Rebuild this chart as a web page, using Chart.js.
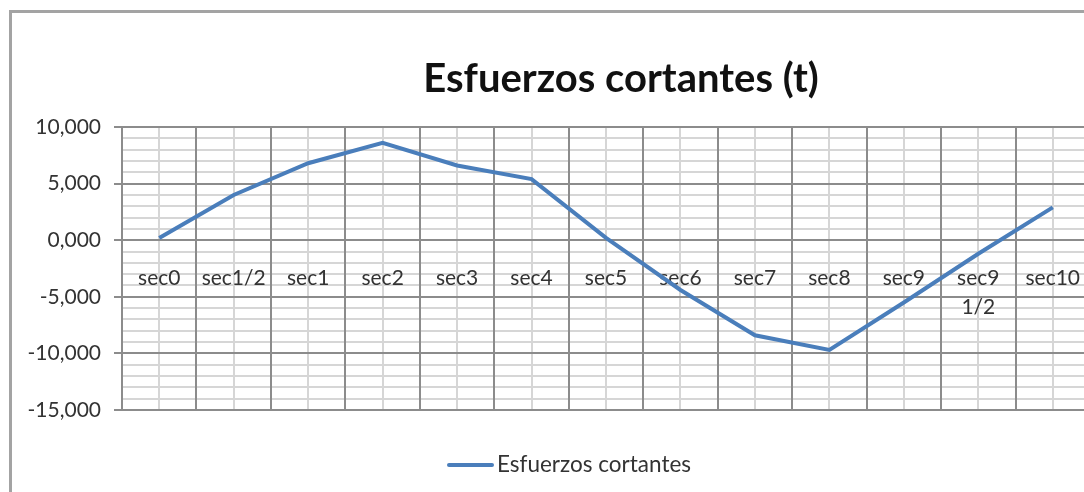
<!DOCTYPE html>
<html>
<head>
<meta charset="utf-8">
<script src="https://cdn.jsdelivr.net/npm/chart.js@4.4.1/dist/chart.umd.min.js"></script>
<style>
    html, body { margin: 0; padding: 0; background: #fff; overflow: hidden; width: 1084px; height: 492px; }
    #frame { position: absolute; left: 9px; top: 10px; width: 1300px; height: 600px; border: 3px solid #a3a3a3; }
    #chart { position: absolute; left: 0; top: 0; }
</style>
</head>
<body>
<div id="frame"></div>
<canvas id="chart" width="1200" height="492"></canvas>
<script>
const chartTitle = 'Esfuerzos cortantes (t)';
const seriesName = 'Esfuerzos cortantes';
const sections = ['sec0', 'sec1/2', 'sec1', 'sec2', 'sec3', 'sec4', 'sec5', 'sec6', 'sec7', 'sec8', 'sec9', ['sec9', '1/2'], 'sec10'];
const shear = [0.2, 4.0, 6.8, 8.6, 6.6, 5.4, 0.2, -4.4, -8.4, -9.7, -5.5, -1.2, 2.9];
const yMin = -15;
const yMax = 10;
const yMajor = 5;

const FONT = 'Lato';
const majorGrid = '#8c8c8c';
const minorGrid = '#d6d6d6';
const lineBlue = '#4a7ebb';
const textColor = '#333';

// title and legend are placed like in the spreadsheet, not where Chart.js would centre them
const decorPlugin = {
    id: 'decor',
    afterDraw(chart) {
        const ctx = chart.ctx;
        ctx.save();
        ctx.fillStyle = '#111';
        ctx.font = 'bold 40px ' + FONT;
        ctx.textAlign = 'center';
        ctx.textBaseline = 'middle';
        ctx.fillText(chartTitle, 621, 79);

        const ds = chart.data.datasets[0];
        ctx.strokeStyle = ds.borderColor;
        ctx.lineWidth = 4;
        ctx.lineCap = 'round';
        ctx.beginPath();
        ctx.moveTo(449, 465);
        ctx.lineTo(492, 465);
        ctx.stroke();
        ctx.fillStyle = textColor;
        ctx.font = '22.5px ' + FONT;
        ctx.textAlign = 'left';
        ctx.fillText(ds.label, 497, 465);
        ctx.restore();
    }
};

const isMajor = v => Math.abs(v % yMajor) < 1e-9;

new Chart(document.getElementById('chart'), {
    type: 'line',
    data: {
        labels: sections,
        datasets: [{
            label: seriesName,
            data: shear,
            borderColor: lineBlue,
            backgroundColor: lineBlue,
            borderWidth: 4,
            pointRadius: 0,
            tension: 0,
            fill: false
        }]
    },
    options: {
        responsive: false,
        animation: false,
        events: [],
        layout: { padding: { left: 0, right: 110, top: 127, bottom: 82 } },
        plugins: {
            legend: { display: false },
            title: { display: false },
            tooltip: { enabled: false }
        },
        scales: {
            y: {
                min: yMin,
                max: yMax,
                afterFit: scale => { scale.width = 122; },
                ticks: {
                    stepSize: 1,
                    maxTicksLimit: 100,
                    autoSkip: false,
                    padding: 13,
                    color: textColor,
                    font: { family: FONT, size: 21 },
                    callback: v => isMajor(v) ? v.toFixed(3).replace('.', ',') : ''
                },
                grid: {
                    z: -2,
                    lineWidth: 2,
                    tickLength: 8,
                    color: c => isMajor(c.tick.value) ? majorGrid : minorGrid,
                    tickColor: c => isMajor(c.tick.value) ? majorGrid : 'rgba(0,0,0,0)'
                },
                border: { color: majorGrid, width: 2 }
            },
            x: {
                position: { y: 0 },
                offset: true,
                ticks: {
                    padding: 24,
                    maxRotation: 0,
                    autoSkip: false,
                    color: textColor,
                    font: { family: FONT, size: 21, lineHeight: 1.38 }
                },
                grid: { z: -1, offset: true, drawTicks: false, color: majorGrid, lineWidth: 2 },
                border: { color: majorGrid, width: 2 }
            },
            xc: {
                type: 'category',
                position: { y: 0 },
                offset: true,
                ticks: { display: false },
                grid: { z: -3, offset: false, drawTicks: false, color: minorGrid, lineWidth: 2 },
                border: { display: false }
            }
        }
    },
    plugins: [decorPlugin]
});
</script>
</body>
</html>
